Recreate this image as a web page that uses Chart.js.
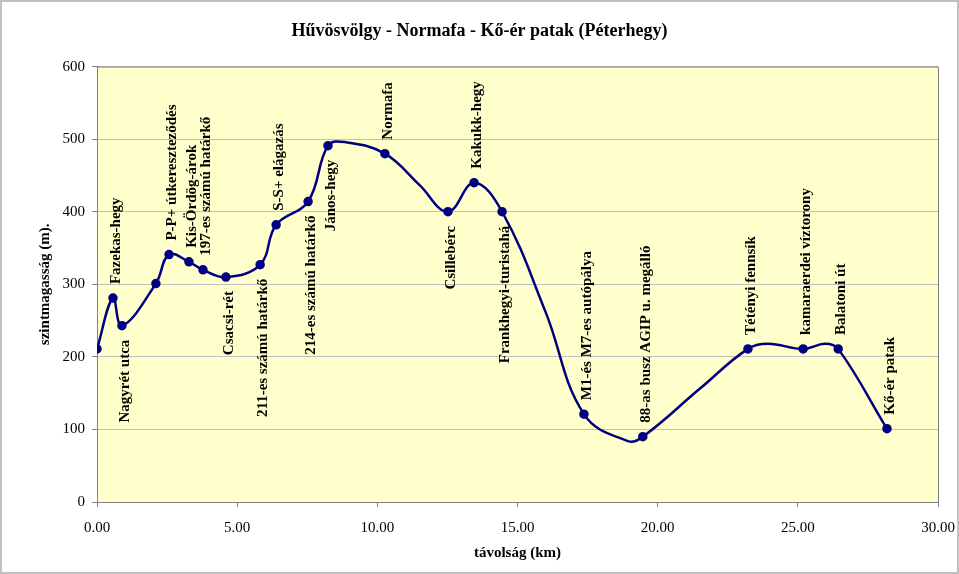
<!DOCTYPE html>
<html>
<head>
<meta charset="utf-8">
<script src="https://cdn.jsdelivr.net/npm/chart.js@4"></script>
<style>
  html, body { margin: 0; padding: 0; background: #ffffff; }
  canvas { display: block; }
</style>
</head>
<body>
<canvas id="c" width="959" height="574"></canvas>
<script>
// ---- data ----
const distances = [0, 0.57, 0.89, 2.10, 2.57, 3.28, 3.78, 4.60, 5.82, 6.39, 7.53, 8.24, 8.85, 10.27, 11.5, 12.52, 13.45, 14.45, 16.0, 17.37, 18.94, 19.47, 21.5, 23.22, 23.94, 25.19, 25.97, 26.44, 28.18];
const elevations = [211, 281, 243, 301, 341, 331, 320, 310, 327, 382, 414, 491, 496, 480, 437, 400, 440, 400, 262, 121, 84, 90, 156, 211, 218, 211, 218, 211, 101];
const placeNames = ["", "Fazekas-hegy", "Nagyrét utca", "", "P-P+ útkereszteződés", "Kis-Ördög-árok", "197-es számú határkő", "Csacsi-rét", "211-es számú határkő", "S-S+ elágazás", "214-es számú határkő", "János-hegy", "", "Normafa", "", "Csillebérc", "Kakukk-hegy", "Frankhegyi-turistahá", "", "M1-és M7-es autópálya", "", "88-as busz AGIP u. megálló", "", "Tétényi fennsík", "", "kamaraerdei víztorony", "", "Balatoni út", "Kő-ér patak"];
// 'a' = label above the point, 'b' = below
const labelSide = ["", "a", "b", "", "a", "a", "a", "b", "b", "a", "b", "b", "", "a", "", "b", "a", "b", "", "a", "", "a", "", "a", "", "a", "", "a", "a"];
// 1 = marked measuring point, 0 = unmarked curve point
const marked = [1,1,1,1,1,1,1,1,1,1,1,1,0,1,0,1,1,1,0,1,0,1,0,1,0,1,0,1,1];
const xTicks = [0, 5, 10, 15, 20, 25, 30];
const yTicks = [0, 100, 200, 300, 400, 500, 600];

const chartTitle = "Hűvösvölgy - Normafa - Kő-ér patak (Péterhegy)";
const xTitle = "távolság (km)";
const yTitle = "szintmagasság (m).";

const points = distances.map((d, i) => ({ x: d, y: elevations[i] }));
const SERIF = "'Liberation Serif', 'Times New Roman', serif";

const bgPlugin = {
  id: 'plotBg',
  beforeDraw(chart) {
    const { ctx, chartArea: a } = chart;
    ctx.save();
    ctx.fillStyle = '#ffffff';
    ctx.fillRect(0, 0, chart.width, chart.height);
    ctx.fillStyle = '#FFFFCC';
    ctx.fillRect(a.left, a.top, a.right - a.left, a.bottom - a.top);
    ctx.restore();
  },
  afterDraw(chart) {
    const { ctx, chartArea: a } = chart;
    ctx.save();
    ctx.strokeStyle = '#808080';
    ctx.lineWidth = 1;
    ctx.beginPath();
    ctx.moveTo(a.left, a.top + 0.5);
    ctx.lineTo(a.right + 0.5, a.top + 0.5);
    ctx.lineTo(a.right + 0.5, a.bottom);
    ctx.stroke();
    ctx.strokeStyle = '#c0c0c0';
    ctx.lineWidth = 2;
    ctx.strokeRect(1, 1, chart.width - 2, chart.height - 2);
    ctx.restore();
  }
};

const labelPlugin = {
  id: 'placeLabels',
  afterDatasetsDraw(chart) {
    const { ctx } = chart;
    const meta = chart.getDatasetMeta(0);
    ctx.save();
    ctx.font = "bold 15px " + SERIF;
    ctx.fillStyle = '#000000';
    ctx.textBaseline = 'middle';
    placeNames.forEach((name, i) => {
      if (!name) return;
      const el = meta.data[i];
      ctx.save();
      ctx.translate(el.x + 3, el.y);
      ctx.rotate(-Math.PI / 2);
      if (labelSide[i] === 'a') {
        ctx.textAlign = 'left';
        ctx.fillText(name, 14, 0);
      } else {
        ctx.textAlign = 'right';
        ctx.fillText(name, -14, 0);
      }
      ctx.restore();
    });
    ctx.restore();
  }
};

new Chart(document.getElementById('c'), {
  type: 'line',
  data: {
    datasets: [{
      data: points,
      borderColor: '#000080',
      backgroundColor: '#000080',
      borderWidth: 2.5,
      tension: 0.4,
      pointRadius: marked.map(m => m ? 3.5 : 0),
      pointHoverRadius: marked.map(m => m ? 3.5 : 0),
      pointBackgroundColor: '#000080',
      pointBorderColor: '#000080',
      fill: false
    }]
  },
  options: {
    responsive: false,
    animation: false,
    devicePixelRatio: 1,
    layout: { padding: 0 },
    plugins: {
      legend: { display: false },
      tooltip: { enabled: false },
      title: {
        display: true,
        text: chartTitle,
        color: '#000000',
        font: { family: SERIF, size: 18, weight: 'bold' },
        padding: { top: 21, bottom: 24 }
      }
    },
    scales: {
      x: {
        type: 'linear',
        min: 0, max: 30,
        afterBuildTicks(scale) { scale.ticks = xTicks.map(v => ({ value: v })); },
        afterFit(scale) { scale.height = 72; scale.paddingLeft = 0; scale.paddingRight = 21; },
        ticks: {
          color: '#000000',
          font: { family: SERIF, size: 15 },
          padding: 12,
          maxRotation: 0,
          callback: v => Number(v).toFixed(2)
        },
        grid: { drawOnChartArea: false, drawTicks: true, tickLength: 5, color: '#808080' },
        border: { color: '#808080', width: 1 },
        title: {
          display: true,
          text: xTitle,
          color: '#000000',
          font: { family: SERIF, size: 15, weight: 'bold' },
          padding: { top: 0, bottom: 12 }
        }
      },
      y: {
        type: 'linear',
        min: 0, max: 600,
        afterBuildTicks(scale) { scale.ticks = yTicks.map(v => ({ value: v })); },
        afterFit(scale) { scale.width = 97; },
        ticks: {
          color: '#000000',
          font: { family: SERIF, size: 15 },
          padding: 7
        },
        grid: { color: '#c0c0c0', tickColor: '#808080', tickLength: 5, lineWidth: 1 },
        border: { color: '#808080', width: 1 },
        title: {
          display: true,
          text: yTitle,
          color: '#000000',
          font: { family: SERIF, size: 15, weight: 'bold' },
          padding: { top: 36, bottom: 0 }
        }
      }
    }
  },
  plugins: [bgPlugin, labelPlugin]
});
</script>
</body>
</html>
